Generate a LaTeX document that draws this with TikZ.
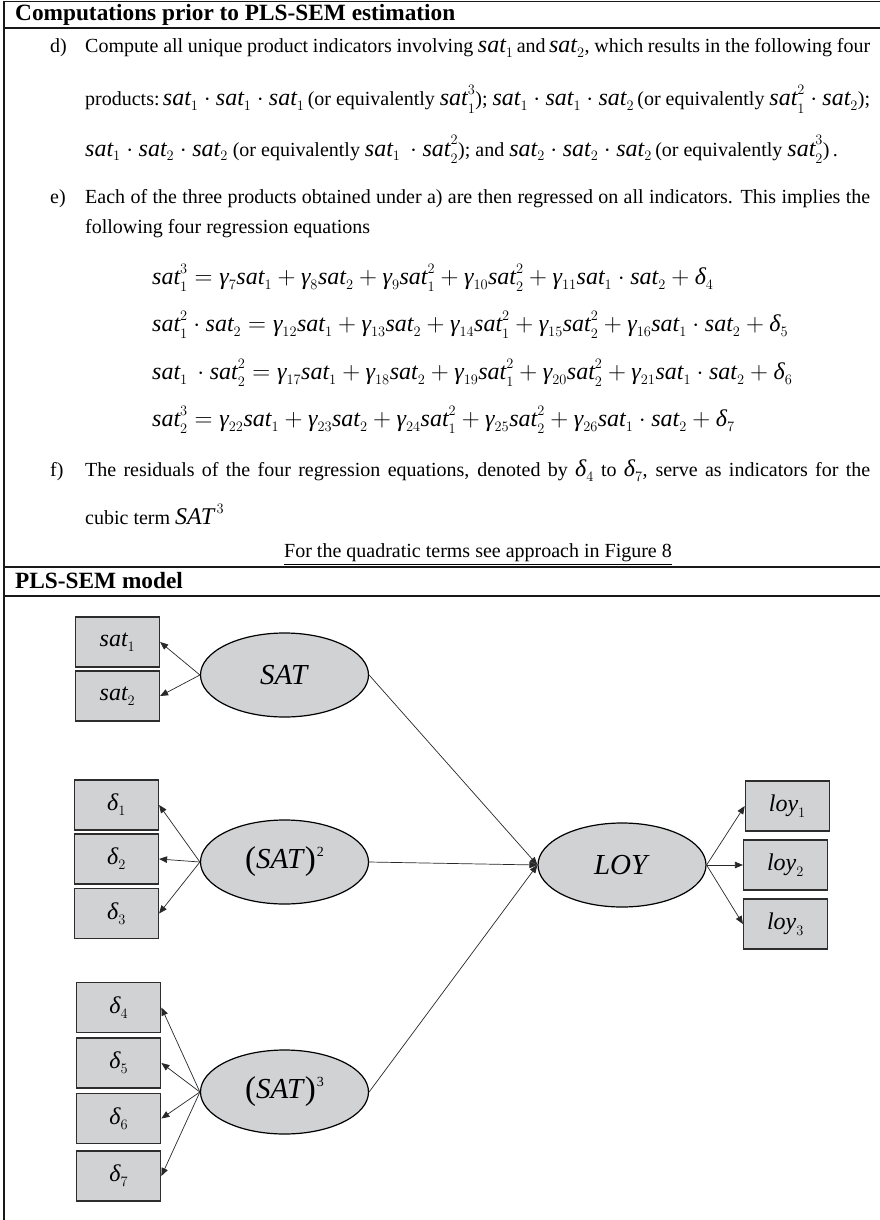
\documentclass[tikz,border=0pt]{standalone}
\usepackage{amsmath}
\usepackage{fontspec}
\setmainfont{Liberation Serif}
\usetikzlibrary{shapes.geometric,arrows.meta}

\def\defaultscriptratio{.58}
\def\defaultscriptscriptratio{.45}

% script positions for the 24pt formulas: superscripts higher,
% subscripts lower than the default
\makeatletter
\AtBeginDocument{{\fontsize{24}{24}\selectfont\check@mathfonts
  \fontdimen13\textfont2=12pt
  \fontdimen14\textfont2=11pt
  \fontdimen15\textfont2=10pt
  \fontdimen16\textfont2=5pt
  \fontdimen17\textfont2=7.5pt}}
\makeatother

\definecolor{boxfill}{RGB}{208,210,211}
\definecolor{boxline}{RGB}{45,45,45}
\definecolor{rulecol}{RGB}{25,25,25}
\definecolor{arrcol}{RGB}{40,40,40}

% italic variable names set in the text face
\newcommand\iv[1]{\text{\itshape #1}}
\newcommand\sa{\iv{sat}}
\newcommand\gm{\iv{γ}}
\newcommand\dl{\iv{δ}}
% inline formula at the larger formula size
\newcommand\fm[1]{{\fontsize{24}{24}\selectfont$#1$}}
% power of SAT with tall parentheses
\newcommand\satpow[1]{\raisebox{-1.5pt}{\fontsize{33}{33}\selectfont(}\textit{SAT}\raisebox{-1.5pt}{\fontsize{33}{33}\selectfont)}\kern1pt\raisebox{12pt}{\fontsize{14}{14}\selectfont #1}}

\tikzset{
  body/.style={inner sep=0pt, anchor=base west, font=\fontsize{20}{24}\selectfont},
  head/.style={inner sep=0pt, anchor=base west, font=\fontsize{23.3}{28}\selectfont\bfseries},
  eqn/.style={inner sep=0pt, anchor=base west, font=\fontsize{24}{28}\selectfont},
  rule/.style={draw=rulecol, line width=1.3pt},
  indbox/.style={rectangle, draw=boxline, fill=boxfill, line width=1.2pt,
    minimum width=84pt, minimum height=50pt, inner sep=0pt,
    font=\fontsize{24}{24}\selectfont},
  latent/.style={ellipse, draw=black, fill=boxfill, line width=1.2pt,
    minimum width=168pt, minimum height=84pt, inner sep=0pt,
    font=\fontsize{29}{29}\selectfont},
  arr/.style={draw=arrcol, line width=0.7pt, -{Triangle[length=8pt,width=6.5pt]}},
}

\begin{document}
\begin{tikzpicture}[x=1pt, y=-1pt]
\useasboundingbox (0,0) rectangle (880,1220);

% table frame
\draw[rule] (4,1.5) -- (880,1.5);
\draw[rule] (4,28) -- (880,28);
\draw[rule] (4,567) -- (880,567);
\draw[rule] (4,596) -- (880,596);
\draw[rule] (4,1.5) -- (4,1220);

% section: computations
\node[head] (h1) at (15,21) {Computations prior to PLS-SEM estimation};

\node[body] (ld) at (50,53) {d)};
\node[body] (d1) at (85,53) {\makebox[785pt][s]{Compute all unique product indicators involving \fm{\sa_1}\,and\,\fm{\sa_2}, which results in the following four}};
\node[body] (d2) at (85,106) {\makebox[785pt][s]{products:\,\fm{\sa_1\cdot\sa_1\cdot\sa_1}\,(or equivalently \fm{\sa_1^3}); \fm{\sa_1\cdot\sa_1\cdot\sa_2}\,(or equivalently \fm{\sa_1^2\cdot\sa_2});}};
\node[body] (d3) at (85,156) {\fm{\sa_1\cdot\sa_2\cdot\sa_2} (or equivalently \fm{\sa_1\,\cdot\sa_2^2}); and \fm{\sa_2\cdot\sa_2\cdot\sa_2}\,(or equivalently \fm{\sa_2^3})\,.};

\node[body] (le) at (50,203) {e)};
\node[body] (e1) at (85,203) {\makebox[785pt][s]{Each of the three products obtained under a) are then regressed on all indicators. This implies the}};
\node[body] (e2) at (85,233) {following four regression equations};

\node[eqn] (q1) at (152,284) {$\sa_1^3 = \gm_7\sa_1 + \gm_8\sa_2 + \gm_9\sa_1^2 + \gm_{10}\sa_2^2 + \gm_{11}\sa_1\cdot\sa_2 + \dl_4$};
\node[eqn] (q2) at (152,331) {$\sa_1^2\cdot\sa_2 = \gm_{12}\sa_1 + \gm_{13}\sa_2 + \gm_{14}\sa_1^2 + \gm_{15}\sa_2^2 + \gm_{16}\sa_1\cdot\sa_2 + \dl_5$};
\node[eqn] (q3) at (152,379) {$\sa_1\,\cdot\sa_2^2 = \gm_{17}\sa_1 + \gm_{18}\sa_2 + \gm_{19}\sa_1^2 + \gm_{20}\sa_2^2 + \gm_{21}\sa_1\cdot\sa_2 + \dl_6$};
\node[eqn] (q4) at (152,426) {$\sa_2^3 = \gm_{22}\sa_1 + \gm_{23}\sa_2 + \gm_{24}\sa_1^2 + \gm_{25}\sa_2^2 + \gm_{26}\sa_1\cdot\sa_2 + \dl_7$};

\node[body] (lf) at (50,476) {f)};
\node[body] (f1) at (85,476) {\makebox[785pt][s]{The residuals of the four regression equations, denoted by \fm{\dl_4} to \fm{\dl_7}, serve as indicators for the}};
\node[body] (f2) at (85,524) {cubic term \fm{\iv{SAT}^{\,3}}};
\node[body, anchor=base] (fig8) at (478,557) {\underline{For the quadratic terms see approach in Figure 8}};

% section: model
\node[head] (h2) at (15,588) {PLS-SEM model};

% indicators of SAT
\node[indbox] (s1) at (117.5,642) {$\sa_1$};
\node[indbox] (s2) at (117.5,696) {$\sa_2$};
\node[latent] (SAT) at (284.5,675) {\textit{SAT}};

% indicators of the quadratic term
\node[indbox] (q1b) at (116.5,805) {$\dl_1$};
\node[indbox] (q2b) at (116.5,859) {$\dl_2$};
\node[indbox] (q3b) at (116.5,913.5) {$\dl_3$};
\node[latent] (SATsq) at (284.5,862) {\satpow{2}};

% indicators of the cubic term
\node[indbox] (c4) at (118.8,1007.5) {$\dl_4$};
\node[indbox] (c5) at (118.8,1063) {$\dl_5$};
\node[indbox] (c6) at (118.8,1118.5) {$\dl_6$};
\node[indbox] (c7) at (118.8,1176) {$\dl_7$};
\node[latent] (SATcu) at (284.5,1092) {\satpow{3}};

% endogenous construct
\node[latent] (LOY) at (622,865) {\textit{LOY}};
\node[indbox] (l1) at (787.3,806) {$\iv{loy}_1$};
\node[indbox] (l2) at (785.5,865) {$\iv{loy}_2$};
\node[indbox] (l3) at (785.5,924) {$\iv{loy}_3$};

% measurement arrows
\draw[arr] (SAT.west) -- (s1.east);
\draw[arr] (SAT.west) -- (s2.east);
\draw[arr] (SATsq.west) -- (q1b.east);
\draw[arr] (SATsq.west) -- (q2b.east);
\draw[arr] (SATsq.west) -- (q3b.east);
\draw[arr] (SATcu.west) -- (c4.east);
\draw[arr] (SATcu.west) -- (c5.east);
\draw[arr] (SATcu.west) -- (c6.east);
\draw[arr] (SATcu.west) -- (c7.east);
\draw[arr] (LOY.east) -- (l1.west);
\draw[arr] (LOY.east) -- (l2.west);
\draw[arr] (LOY.east) -- (l3.west);

% structural paths
\draw[arr] (SAT.east) -- (LOY.west);
\draw[arr] (SATsq.east) -- (LOY.west);
\draw[arr] (SATcu.east) -- (LOY.west);
\end{tikzpicture}
\end{document}
